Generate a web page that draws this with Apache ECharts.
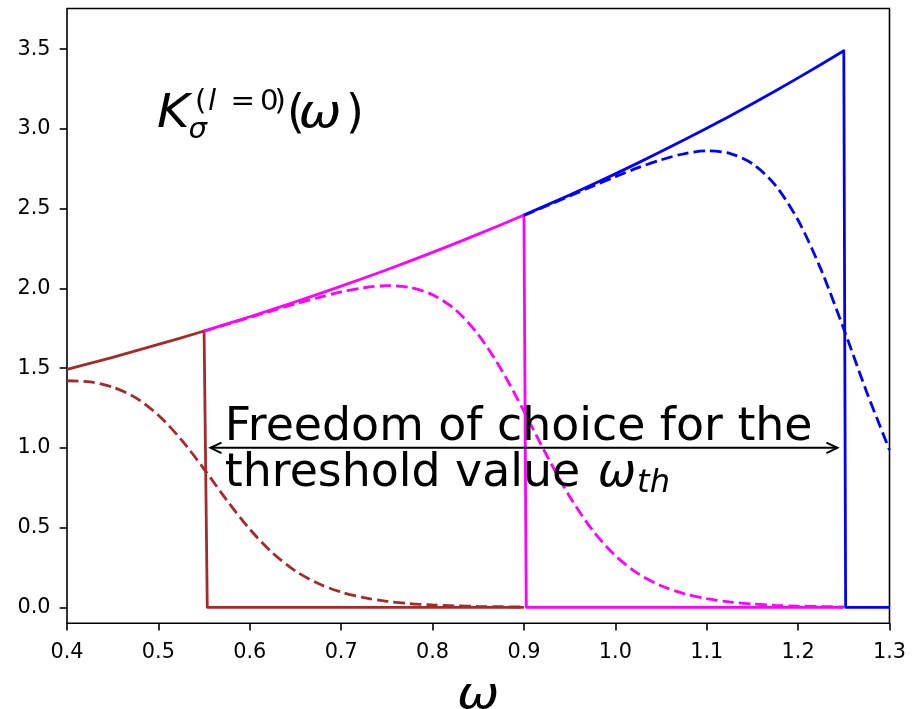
<!DOCTYPE html>
<html>
<head>
<meta charset="utf-8">
<script src="https://cdn.jsdelivr.net/npm/echarts@6/dist/echarts.min.js"></script>
<style>
  html, body { margin: 0; padding: 0; background: #fff; }
  #chart { width: 913px; height: 709px; }
</style>
</head>
<body>
<div id="chart"></div>
<script>
// Frequency grid (step 0.025) shared by all curves
const omega = [0.400, 0.425, 0.450, 0.475, 0.500, 0.525, 0.550, 0.575, 0.600, 0.625,
               0.650, 0.675, 0.700, 0.725, 0.750, 0.775, 0.800, 0.825, 0.850, 0.875,
               0.900, 0.925, 0.950, 0.975, 1.000, 1.025, 1.050, 1.075, 1.100, 1.125,
               1.150, 1.175, 1.200, 1.225, 1.250, 1.275, 1.300];

// Upper envelope of the sharp-cutoff kernels
const kernelUpper = [1.492, 1.530, 1.568, 1.608, 1.649, 1.690, 1.733, 1.777, 1.822, 1.868,
                     1.916, 1.964, 2.014, 2.065, 2.117, 2.171, 2.226, 2.282, 2.340, 2.399,
                     2.460, 2.522, 2.586, 2.651, 2.718, 2.787, 2.858, 2.930, 3.004, 3.080,
                     3.158, 3.238, 3.320, 3.404, 3.490, 3.579, 3.669];

// Cutoff thresholds and the omega span of each kernel
const thresholds = [0.55, 0.90, 1.25];
const spanStart  = [0.40, 0.55, 0.90];
const spanEnd    = [0.90, 1.25, 1.30];
const dropFoot   = [0.5535, 0.9025, 1.2520];

// Smoothed kernels (dashed), starting at spanStart
const smoothBrown = [1.421, 1.414, 1.381, 1.315, 1.205, 1.052, 0.867, 0.671, 0.490, 0.341,
                     0.228, 0.149, 0.096, 0.061, 0.038, 0.024, 0.015, 0.009, 0.006, 0.004, 0.002];
const smoothMagenta = [1.732, 1.775, 1.818, 1.861, 1.903, 1.942, 1.978, 2.004, 2.017, 2.006,
                       1.960, 1.866, 1.710, 1.493, 1.230, 0.952, 0.695, 0.484, 0.324, 0.211,
                       0.136, 0.086, 0.054, 0.034, 0.021, 0.013, 0.008, 0.005, 0.003];
const smoothBlue = [2.457, 2.518, 2.579, 2.640, 2.700, 2.757, 2.806, 2.844, 2.862, 2.847,
                    2.782, 2.647, 2.427, 2.119, 1.745, 1.351, 0.987];

const xTicks = [0.4, 0.5, 0.6, 0.7, 0.8, 0.9, 1.0, 1.1, 1.2, 1.3];
const yTicks = [0.0, 0.5, 1.0, 1.5, 2.0, 2.5, 3.0, 3.5];

// Double arrow marking the admissible threshold range
const arrowFrom = 0.557, arrowTo = 1.243, arrowLevel = 1.0;
const noteAnchor = [0.57, 1.0];
const titleAnchor = [0.5, 3.0];

const colors = ['#a52a2a', '#ff00ff', '#0000ff'];
const smoothSets = [smoothBrown, smoothMagenta, smoothBlue];
const FAM = '"DejaVu Sans"';
const LW = 2.8;

const idx = w => Math.round((w - omega[0]) / 0.025);

const series = [];
thresholds.forEach((th, k) => {
  const a = idx(spanStart[k]), b = idx(th);
  const solid = [];
  for (let i = a; i <= b; i++) solid.push([omega[i], kernelUpper[i]]);
  solid.push([dropFoot[k], 0], [spanEnd[k], 0]);
  series.push({
    type: 'line', data: solid, symbol: 'none', showSymbol: false,
    lineStyle: { color: colors[k], width: LW, join: 'round' },
    z: 2 + 2 * k, silent: true
  });
  const dashed = smoothSets[k].map((v, j) => [omega[a + j], v]);
  series.push({
    type: 'line', data: dashed, symbol: 'none', showSymbol: false, smooth: 0.3,
    lineStyle: { color: colors[k], width: LW, type: [11.5, 5] },
    z: 3 + 2 * k, silent: true
  });
});

series.push({
  type: 'custom',
  data: [[arrowFrom, arrowTo, arrowLevel]],
  encode: { x: [0, 1], y: 2 },
  clip: false, z: 20, silent: true,
  renderItem(params, api) {
    const p0 = api.coord([api.value(0), api.value(2)]);
    const p1 = api.coord([api.value(1), api.value(2)]);
    const hl = 11, hw = 5.3;
    const st = { stroke: '#000', lineWidth: 2, fill: null };
    return {
      type: 'group',
      children: [
        { type: 'line', shape: { x1: p0[0], y1: p0[1], x2: p1[0], y2: p1[1] }, style: st },
        { type: 'polyline', shape: { points: [[p0[0] + hl, p0[1] - hw], [p0[0], p0[1]], [p0[0] + hl, p0[1] + hw]] }, style: st },
        { type: 'polyline', shape: { points: [[p1[0] - hl, p1[1] - hw], [p1[0], p1[1]], [p1[0] - hl, p1[1] + hw]] }, style: st }
      ]
    };
  }
});

const axisFont = { color: '#000', fontFamily: 'DejaVu Sans', fontSize: 20.8 };

const option = {
  animation: false,
  backgroundColor: '#fff',
  grid: {
    left: 67, right: 23.5, top: 8.5, bottom: 85.7,
    show: true, borderColor: '#000', borderWidth: 1.6, backgroundColor: 'transparent',
    outerBoundsMode: 'none', containLabel: false
  },
  xAxis: {
    type: 'value', min: 0.4, max: 1.3,
    splitLine: { show: false },
    axisLine: { show: false, onZero: false },
    axisTick: { show: true, length: 7.3, lineStyle: { color: '#000', width: 1.6 }, customValues: xTicks },
    axisLabel: Object.assign({ customValues: xTicks, formatter: v => v.toFixed(1), margin: 19, lineHeight: 21 }, axisFont)
  },
  yAxis: {
    type: 'value', min: -0.1, max: 3.755,
    splitLine: { show: false },
    axisLine: { show: false, onZero: false },
    axisTick: { show: true, length: 7.3, lineStyle: { color: '#000', width: 1.6 }, customValues: yTicks },
    axisLabel: Object.assign({ customValues: yTicks, formatter: v => v.toFixed(1), margin: 16.5 }, axisFont)
  },
  series
};

const chart = echarts.init(document.getElementById('chart'), null, { renderer: 'canvas' });
chart.setOption(option);

// Text layout helpers (baseline positioning with DejaVu Sans metrics)
const ctx = document.createElement('canvas').getContext('2d');
const fontStr = (size, it) => (it ? 'italic ' : '') + size + 'px ' + FAM;
function textWidth(str, size, it) { ctx.font = fontStr(size, it); return ctx.measureText(str).width; }
function midShift(size, it) {
  ctx.font = fontStr(size, it);
  ctx.textBaseline = 'alphabetic';
  const a1 = ctx.measureText('H').actualBoundingBoxAscent;
  ctx.textBaseline = 'middle';
  const a2 = ctx.measureText('H').actualBoundingBoxAscent;
  ctx.textBaseline = 'alphabetic';
  return a1 - a2;
}
function piece(str, x, baseline, size, it, align, sx) {
  return {
    type: 'text', x: x, y: baseline - midShift(size, it), scaleX: sx || 1, silent: true, z: 100,
    style: {
      text: str, x: 0, y: 0, font: fontStr(size, it), fill: '#000',
      align: align || 'left', verticalAlign: 'middle',
      textAlign: align || 'left', textVerticalAlign: 'middle'
    }
  };
}

const els = [];
const big = 45.8, small = 29.2, note = 45.8;

// Kernel label K_sigma^(l=0)(omega)
const tp = chart.convertToPixel({ gridIndex: 0 }, titleAnchor);
const tx = tp[0], tb = tp[1] - 1.8;
els.push(piece('K', tx - 1.3, tb, big, true, 'left', 1.08));
els.push(piece('σ', tx + 30.2, tb + 11, small, true));
els.push(piece('(', tx + 36.7, tb - 17, small, false));
els.push(piece('l', tx + 49.7, tb - 17, small, true));
els.push(piece('=', tx + 72, tb - 17, small, false));
els.push(piece('0', tx + 101.7, tb - 17, small, false));
els.push(piece(')', tx + 116.2, tb - 17, small, false));
els.push(piece('(', tx + 128.7, tb, big, false));
els.push(piece('ω', tx + 140.2, tb, big, true, 'left', 1.12));
els.push(piece(')', tx + 187.7, tb, big, false));

// Annotation text beside the arrow
const np = chart.convertToPixel({ gridIndex: 0 }, noteAnchor);
const nx = np[0] + 2.5;
els.push(piece('Freedom of choice for the', nx, np[1] - 8, note, false));
const line2 = 'threshold value ';
const w2 = textWidth(line2, note, false);
els.push(piece(line2, nx, np[1] + 38.5, note, false));
els.push(piece('ω', nx + w2 + 3, np[1] + 38.5, note, true));
const wOm = textWidth('ω', note, true);
els.push(piece('th', nx + w2 + 3 + wOm + 1, np[1] + 44, 32, true));

// x-axis title
const gridRect = { left: 67, right: 913 - 23.5 };
els.push(piece('ω', (gridRect.left + gridRect.right) / 2, 707.5, 44, true, 'center', 1.15));

chart.setOption({ graphic: { elements: els } });
</script>
</body>
</html>
